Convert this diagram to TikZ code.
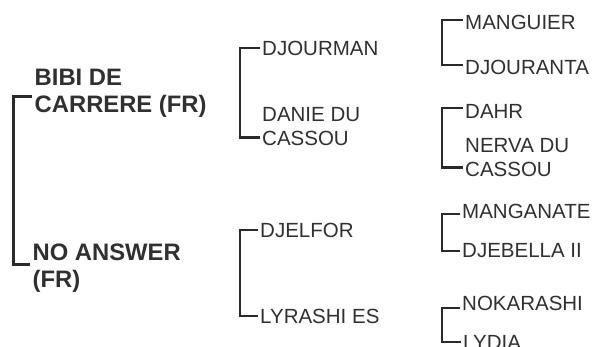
\documentclass[tikz,border=0pt]{standalone}
\usepackage{fontspec}
\setmainfont{Liberation Sans}
\usetikzlibrary{calc}
\definecolor{ink}{HTML}{2A2A2A}
\definecolor{txt}{HTML}{303030}
\begin{document}
\begin{tikzpicture}[x=1pt,y=-1pt,
  br/.style={draw=ink, line width=2.8pt, line cap=butt, line join=miter},
  brA/.style={br, line width=3pt},
  big/.style={anchor=west, inner xsep=2.5pt, inner ysep=0pt, align=left, text=txt,
    font=\fontsize{23.8}{27}\selectfont\bfseries},
  sm/.style={anchor=west, inner xsep=2pt, inner ysep=0pt, align=left, text=txt,
    font=\fontsize{20.5}{24}\selectfont},
]
\useasboundingbox[fill=white] (0,0) rectangle (595,347);

% generation 1
\node[big] (bibi) at (32,93) {BIBI DE\\CARRERE (FR)};
\node[big] (noans) at (30,268) {NO ANSWER\\(FR)};

% generation 2
\node[sm] (djm) at (260,48) {DJOURMAN};
\node[sm] (dan) at (260,126.5) {DANIE DU\\CASSOU};
\node[sm] (djf) at (258,230) {DJELFOR};
\node[sm] (lyr) at (258,316) {LYRASHI ES};

% generation 3
\node[sm] (man) at (463,22) {MANGUIER};
\node[sm] (dja) at (463,67) {DJOURANTA};
\node[sm] (dah) at (463,111) {DAHR};
\node[sm] (ner) at (463,158) {NERVA DU\\CASSOU};
\node[sm] (mgn) at (460,211) {MANGANATE};
\node[sm] (djb) at (460,251) {DJEBELLA II};
\node[sm] (nok) at (460,303) {NOKARASHI};
\node[sm] (lyd) at (461,342) {LYDIA};

% brackets
\draw[brA] ([yshift=-4pt]bibi.west) -- ++(-19,0) |- ([yshift=3pt]noans.west);
\draw[br] (djm.west) -- ++(-20,0) |- ($(dan.south west)+(0,-8)$);
\draw[br] (djf.west) -- ++(-18,0) |- (lyr.west);
\draw[br] ([yshift=2pt]man.west) -- ++(-21,0) |- ([yshift=2pt]dja.west);
\draw[br] ([yshift=3pt]dah.west) -- ++(-21,0) |- ($(ner.south west)+(0,-10)$);
\draw[br] ([yshift=-3pt]mgn.west) -- ++(-18,0) |- (djb.west);
\draw[br] ([yshift=-5pt]nok.west) -- ++(-18,0) |- (lyd.west);
\end{tikzpicture}
\end{document}
